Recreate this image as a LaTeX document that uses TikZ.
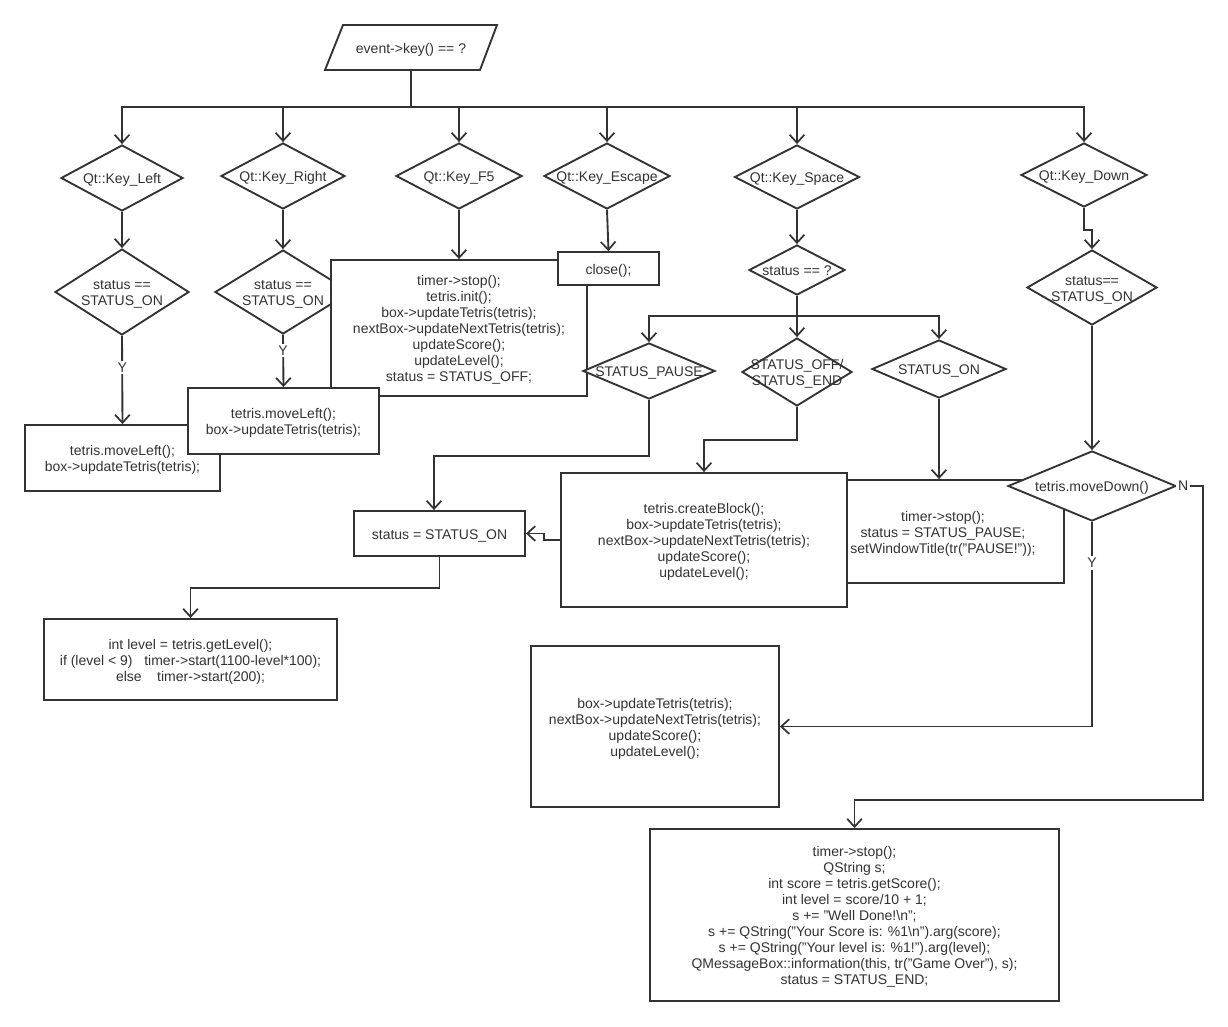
\documentclass[tikz,border=0pt]{standalone}
\usepackage{fontspec}
\setmainfont{Liberation Sans}
\usetikzlibrary{arrows.meta,calc,shapes.geometric}
\definecolor{ink}{HTML}{333333}
\newcommand{\dtxt}[1]{\makebox[0pt]{\smash{\raisebox{-4.75pt}{\begin{tabular}{@{}c@{}}#1\end{tabular}}}}}
\tikzset{
  base/.style={draw=ink, line width=1.4pt, text=ink, font=\fontsize{10.5}{12}\selectfont, fill=white},
  dia/.style 2 args={base, diamond, inner sep=0pt, minimum width=#1*0.75pt, minimum height=#2*0.75pt},
  box/.style 2 args={base, rectangle, align=center, inner sep=0pt, minimum width=#1*0.75pt, minimum height=#2*0.75pt},
  conn/.style={draw=ink, line width=1.4pt},
  arr/.style={conn, -{Straight Barb[length=6pt, width=11pt, line width=1.3pt]}},
  lbl/.style={fill=white, text=ink, inner sep=1.5pt, font=\fontsize{10.5}{12}\selectfont}
}
\begin{document}
\begin{tikzpicture}[x=0.75pt,y=-0.75pt]
\fill[white] (0,0) rectangle (1228,1026);
\useasboundingbox (0,0) rectangle (1228,1026);

% start
\draw[conn, fill=white] (325,70) -- (343,25) -- (497,25) -- (480,70) -- cycle;
\node[base, draw=none, fill=none, minimum width=150*0.75pt, minimum height=45*0.75pt, inner sep=0pt] (start) at (411,47.5) {\dtxt{event->key() == ?}};

% key diamonds
\node[dia={122}{66}] (kl)   at (122,178) {\dtxt{Qt::Key\_Left}};
\node[dia={124}{66}] (kr)   at (283,176) {\dtxt{Qt::Key\_Right}};
\node[dia={126}{66}] (kf5)  at (459,176) {\dtxt{Qt::Key\_F5}};
\node[dia={126}{66}] (kesc) at (607,176) {\dtxt{Qt::Key\_Escape}};
\node[dia={125}{64}] (ksp)  at (797,177) {\dtxt{Qt::Key\_Space}};
\node[dia={126}{64}] (kdn)  at (1084,175) {\dtxt{Qt::Key\_Down}};

% second level
\node[dia={134}{86}] (sl) at (122,292) {\dtxt{status ==\\STATUS\_ON}};
\node[dia={136}{84}] (sr) at (283,292) {\dtxt{status ==\\STATUS\_ON}};

\node[box={195}{66}] (boxL) at (122.5,458) {\dtxt{tetris.moveLeft();\\box->updateTetris(tetris);}};
\node[box={256}{136}] (f5box) at (459,328) {\dtxt{timer->stop();\\tetris.init();\\box->updateTetris(tetris);\\nextBox->updateNextTetris(tetris);\\updateScore();\\updateLevel();\\status = STATUS\_OFF;}};
\node[box={191}{66}] (boxR) at (283.5,421) {\dtxt{tetris.moveLeft();\\box->updateTetris(tetris);}};
\node[box={101}{33}] (close) at (608.5,268.5) {\dtxt{close();}};

% space branch
\node[dia={96}{50}]  (ssp) at (797,270) {\dtxt{status == ?}};
\node[dia={132}{56}] (sp)  at (649,371) {\dtxt{STATUS\_PAUSE}};
\node[dia={110}{68}] (soe) at (797,372) {\dtxt{STATUS\_OFF/\\STATUS\_END}};
\node[dia={134}{58}] (son) at (939,369) {\dtxt{STATUS\_ON}};

\node[box={171}{45}] (stOn) at (439.5,533.5) {\dtxt{status = STATUS\_ON}};
\node[box={242}{103}] (pause) at (943,531.5) {\dtxt{timer->stop();\\status = STATUS\_PAUSE;\\setWindowTitle(tr("PAUSE!"));}};
\node[box={286}{134}] (create) at (704,540) {\dtxt{tetris.createBlock();\\box->updateTetris(tetris);\\nextBox->updateNextTetris(tetris);\\updateScore();\\updateLevel();}};

% down branch
\node[dia={130}{75}] (sdn) at (1092,287.5) {\dtxt{status==\\STATUS\_ON}};
\node[dia={168}{70}] (md) at (1092,486) {\dtxt{tetris.moveDown()}};

\node[box={293}{81}] (lvl) at (190.5,659.5) {\dtxt{int level = tetris.getLevel();\\if (level < 9)\ \ \ timer->start(1100-level*100);\\else\ \ \ \ timer->start(200);}};
\node[box={248}{161}] (upd) at (655,726.5) {\dtxt{box->updateTetris(tetris);\\nextBox->updateNextTetris(tetris);\\updateScore();\\updateLevel();}};
\node[box={409}{172}] (final) at (854.5,915) {\dtxt{timer->stop();\\QString s;\\int score = tetris.getScore();\\int level = score/10 + 1;\\s += "Well Done!\textbackslash n";\\s += QString("Your Score is: \%1\textbackslash n").arg(score);\\s += QString("Your level is: \%1!").arg(level);\\QMessageBox::information(this, tr("Game Over"), s);\\status = STATUS\_END;}};

% connectors
\coordinate (bus) at (411,107);
\draw[conn] (start.south) -- (bus);
\foreach \n in {kl,kr,kf5,kesc,ksp,kdn} \draw[arr] (bus) -| (\n.north);

\draw[arr] (kl.south) -- (sl.north);
\draw[arr] (sl.south) -- node[lbl, pos=0.36] {Y} (boxL.north);
\draw[arr] (kr.south) -- (sr.north);
\draw[arr] (sr.south) -- node[lbl, pos=0.3] {Y} (boxR.north);
\draw[arr] (kf5.south) -- (f5box.north);
\draw[arr] (kesc.south) -- (close.north);

\draw[arr] (ksp.south) -- (ssp.north);
\coordinate (sbus) at (797,316);
\draw[conn] (ssp.south) -- (sbus);
\draw[arr] (sbus) -| (sp.north);
\draw[arr] (sbus) -- (soe.north);
\draw[arr] (sbus) -| (son.north);

\coordinate (j1) at (434,456);
\draw[arr] (sp.south) |- (j1) -- (j1 |- stOn.north);
\draw[arr] (soe.south) |- ($(create.north)+(0,-32)$) -- (create.north);
\draw[arr] (son.south) -- (son.south |- pause.north);
\draw[arr] (create.west) -- ++(-16,0) |- (stOn.east);
\draw[arr] (stOn.south) -- ++(0,31) -| (lvl.north);

\draw[arr] (kdn.south) -- ++(0,22) -| (sdn.north);
\draw[arr] (sdn.south) -- (md.north);
\draw[arr] (md.south) |- node[lbl, pos=0.1] {Y} (upd.east);
\coordinate (nc) at (1203,800);
\draw[arr] (md.east) -| node[lbl, pos=0.12] {N} (nc) -| (final.north);
\end{tikzpicture}
\end{document}
